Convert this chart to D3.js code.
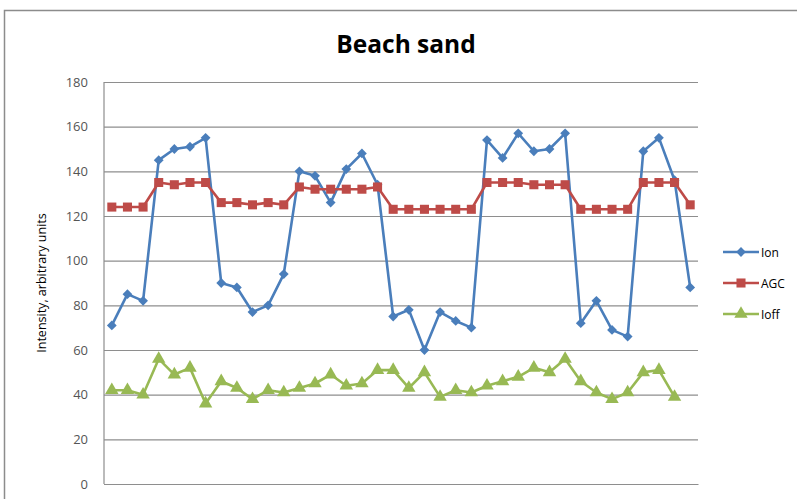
<!DOCTYPE html>
<html><head><meta charset="utf-8">
<script src="https://cdn.jsdelivr.net/npm/d3@7"></script>
<style>body{margin:0;background:#fff}svg{display:block}</style>
</head><body>
<svg id="c" width="797" height="499"></svg>
<script>
const categories = d3.range(1, 39);
const ion  = [71,85,82,145,150,151,155,90,88,77,80,94,140,138,126,141,148,134,75,78,60,77,73,70,154,146,157,149,150,157,72,82,69,66,149,155,136,88];
const agc  = [124,124,124,135,134,135,135,126,126,125,126,125,133,132,132,132,132,133,123,123,123,123,123,123,135,135,135,134,134,134,123,123,123,123,135,135,135,125];
const ioff = [42,42,40,56,49,52,36,46,43,38,42,41,43,45,49,44,45,51,51,43,50,39,42,41,44,46,48,52,50,56,46,41,38,41,50,51,39,null];
const yTicks = [0,20,40,60,80,100,120,140,160,180];
const seriesNames = ["Ion","AGC","Ioff"];
const colors = ["#4A7EBB","#BE4B48","#98B954"];

const svg = d3.select("#c");
const L=104, R=698, T=82, B=484;
const x = d3.scaleBand().domain(categories).range([L,R]);
const y = d3.scaleLinear().domain([0,180]).range([B,T]);

// outer frame
svg.append("path").attr("d","M4.5,499 L4.5,10.5 L797,10.5").attr("fill","none").attr("stroke","#8c8c8c").attr("stroke-width",1.5);

// title
svg.append("text").attr("x",406).attr("y",53).attr("text-anchor","middle")
  .attr("font-family","Open Sans, sans-serif").attr("font-weight","bold").attr("font-size",24.5).attr("fill","#000").text("Beach sand");

// grid
const gAxis = svg.append("g").attr("transform",`translate(${L},0)`)
  .call(d3.axisLeft(y).tickValues(yTicks).tickSize(-(R-L)).tickPadding(16));
gAxis.select(".domain").remove();
gAxis.selectAll(".tick line").attr("stroke","#8e8e8e").attr("stroke-width",1.2);
gAxis.selectAll(".tick text").attr("font-family","Open Sans, sans-serif").attr("font-size",13).attr("fill","#555");
// plot left border & bottom
svg.append("line").attr("x1",L).attr("x2",L).attr("y1",T).attr("y2",B).attr("stroke","#8e8e8e").attr("stroke-width",1.2);
const xAxis = svg.append("g").attr("transform",`translate(0,${B})`).call(d3.axisBottom(x).tickSize(0).tickFormat(""));
xAxis.select(".domain").attr("stroke","#8e8e8e").attr("stroke-width",1.2);

// y title
svg.append("text").attr("transform","translate(46,283) rotate(-90)").attr("text-anchor","middle")
  .attr("font-family","Open Sans, sans-serif").attr("font-size",12.5).attr("fill","#000").text("Intensity, arbitrary units");

const data = [ion, agc, ioff];
const cx = i => x(categories[i]) + x.bandwidth()/2;
const symbols = [d3.symbolSquare, d3.symbolSquare, d3.symbolTriangle];
const sizes = [48, 82, 78];
const rot = [" rotate(45)", "", ""];

data.forEach((vals, s) => {
  const line = d3.line().defined(v => v !== null).x((v,i)=>cx(i)).y(v=>y(v));
  svg.append("path").datum(vals).attr("d", line).attr("fill","none").attr("stroke",colors[s]).attr("stroke-width",2.6).attr("stroke-linejoin","round");
  svg.append("g").selectAll("path").data(vals.map((v,i)=>({v,i})).filter(d=>d.v!==null)).join("path")
    .attr("transform", d=>`translate(${cx(d.i)},${y(d.v)})` + rot[s])
    .attr("d", d3.symbol().type(symbols[s]).size(sizes[s]))
    .attr("fill", colors[s]);
});

// legend
const legY = [252, 283, 314];
seriesNames.forEach((n, s) => {
  const g = svg.append("g");
  g.append("line").attr("x1",723).attr("x2",759).attr("y1",legY[s]).attr("y2",legY[s]).attr("stroke",colors[s]).attr("stroke-width",2.6);
  g.append("path").attr("transform",`translate(741,${legY[s]})` + rot[s]).attr("d", d3.symbol().type(symbols[s]).size(sizes[s])).attr("fill",colors[s]);
  g.append("text").attr("x",761).attr("y",legY[s]+4.5).attr("font-family","Open Sans, sans-serif").attr("font-size",12).attr("fill","#000").text(n);
});
</script>
</body></html>
